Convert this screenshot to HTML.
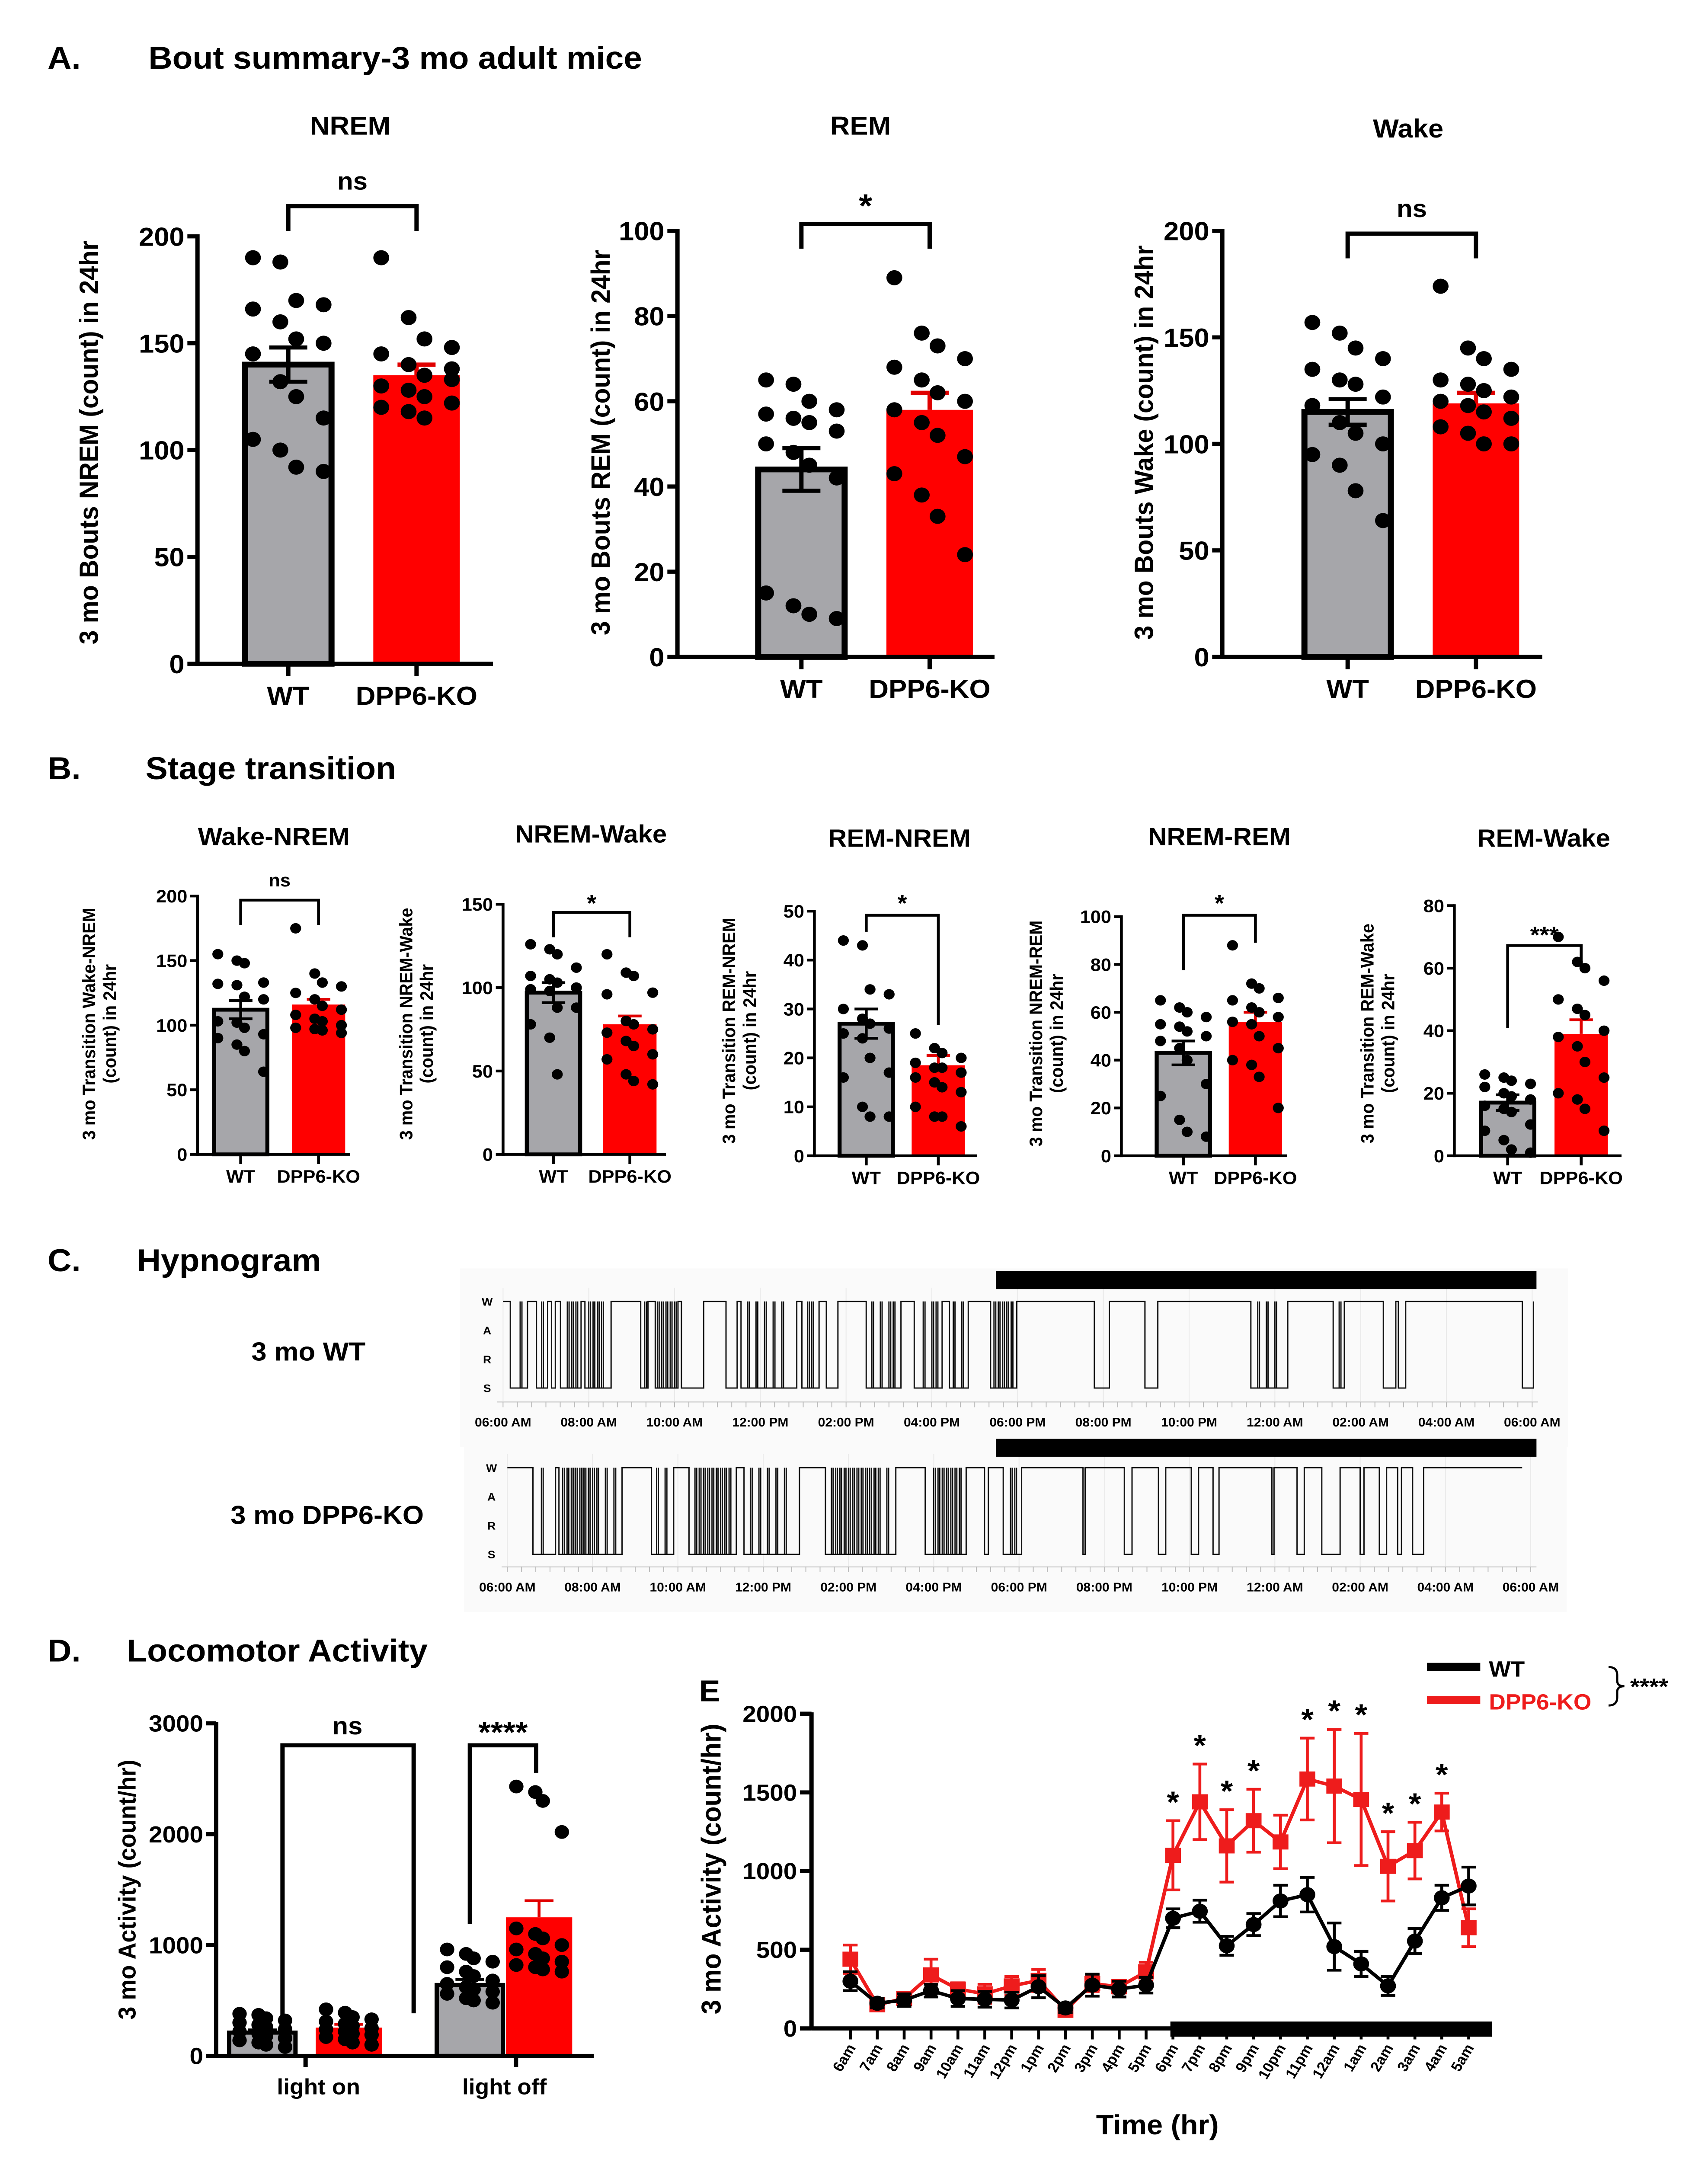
<!DOCTYPE html>
<html><head><meta charset="utf-8">
<style>
html,body{margin:0;padding:0;background:#fff;width:100%;height:100%;overflow:hidden;}
svg{display:block;width:100vw;height:100vh;}
text{font-family:"Liberation Sans",Arial,sans-serif;font-weight:bold;fill:#000;}
</style></head>
<body>
<svg id="fig" width="100%" height="100%" viewBox="0 0 1185 1573.2" preserveAspectRatio="none" xmlns="http://www.w3.org/2000/svg">
<rect width="1185" height="1573.2" fill="#fff"/>
<text x="33" y="50" font-size="23">A.</text>
<text x="103" y="50" font-size="23">Bout summary-3 mo adult mice</text>
<text x="33" y="567" font-size="23">B.</text>
<text x="101" y="567" font-size="23">Stage transition</text>
<text x="33" y="925" font-size="23">C.</text>
<text x="95" y="925" font-size="23">Hypnogram</text>
<text x="33" y="1209" font-size="23">D.</text>
<text x="88" y="1209" font-size="23">Locomotor Activity</text>
<text x="485" y="1238" font-size="22">E</text>
<g id="root"></g>
</svg>
<script>
// ---------- Panel A data ----------
const groups = ["WT", "DPP6-KO"];
const nremMeans = [140, 135];
const nremErrs = [8, 5];
const nremWT = [190,188,170,168,166,160,152,150,145,132,125,115,105,100,92,90];
const nremKO = [190,162,152,148,145,140,135,133,130,128,125,122,120,118,115,138];
const remMeans = [44, 58];
const remErrs = [5, 4];
const remWT = [65,64,60,58,57,56,55,53,50,48,45,42,15,12,10,9];
const remKO = [89,76,73,70,68,65,62,60,58,55,52,47,43,38,33,24];
const wakeMeans = [115, 119];
const wakeErrs = [6, 5];
const wakeWT = [157,152,145,140,135,130,128,122,118,110,105,100,95,90,78,64];
const wakeKO = [174,145,140,135,130,128,125,122,120,118,115,112,108,105,100,100];
// ---------- Panel B data ----------
const wnMeans = [112, 116];
const wnErrs = [7, 4];
const wnWT = [155,150,148,133,132,131,122,120,103,102,98,93,90,85,80,64];
const wnKO = [175,140,133,130,125,120,115,112,108,105,103,100,98,97,96,94];
const nwMeans = [97, 78];
const nwErrs = [6, 5];
const nwWT = [126,123,120,112,107,105,103,100,99,98,88,88,78,70,48,100];
const nwKO = [120,109,107,97,96,80,78,75,73,68,65,60,57,48,44,42];
const rnMeans = [27, 18.5];
const rnErrs = [3, 2];
const rnWT = [44,43,34,33,30,28,27,26,25,24,20,17,16,10,8,8];
const rnKO = [25,22,21,20,19,18,18,17,16,15,14,13,10,8,8,6];
const nrMeans = [43, 56];
const nrErrs = [5, 4];
const nrWT = [65,62,60,58,55,54,52,50,48,45,40,30,25,15,10,8];
const nrKO = [88,72,70,66,65,62,60,58,56,55,50,45,40,38,33,20];
const rwMeans = [17, 39];
const rwErrs = [2.5, 4.5];
const rwWT = [26,25,24,23,22,20,19,18,16,15,14,10,8,5,2,1];
const rwKO = [70,62,60,56,50,47,45,40,38,35,30,25,20,18,15,8];
// ---------- Panel D data ----------
const dCats = ["light on", "light off"];
const dMeans = [210, 255, 640, 1250];
const dErrs = [25, 30, 50, 150];
const dOnWT = [380,370,340,320,300,280,260,240,220,200,180,160,140,120,100,80];
const dOnKO = [420,390,350,330,310,290,270,250,240,220,200,190,170,150,120,100];
const dOffWT = [960,920,880,850,800,760,720,680,650,620,600,580,560,520,500,480];
const dOffKO = [2430,2380,2300,2020,1150,1100,1060,1000,960,920,880,850,820,800,780,760];
// ---------- Panel E data ----------
const hours = ["6am","7am","8am","9am","10am","11am","12pm","1pm","2pm","3pm","4pm","5pm","6pm","7pm","8pm","9pm","10pm","11pm","12am","1am","2am","3am","4am","5am"];
const wtAct = [300,160,180,240,190,185,180,265,130,275,250,275,700,745,525,660,810,850,520,410,270,555,830,905];
const wtErr = [60,30,40,40,50,50,50,70,30,70,50,50,60,70,60,70,100,110,150,80,60,80,80,120];
const koAct = [440,150,190,340,250,220,270,305,115,285,265,360,1100,1440,1160,1320,1185,1585,1540,1455,1030,1130,1375,640];
const koErr = [90,20,30,100,40,60,60,70,30,50,40,60,220,240,230,200,170,260,360,420,220,180,120,120];
const sigHours = [12,13,14,15,17,18,19,20,21,22];
const eTicks = [0,500,1000,1500,2000];
// ---------- Panel C data (hours from 06:00 AM) ----------
const hypLabels = ["06:00 AM","08:00 AM","10:00 AM","12:00 PM","02:00 PM","04:00 PM","06:00 PM","08:00 PM","10:00 PM","12:00 AM","02:00 AM","04:00 AM","06:00 AM"];
const wtSleep = [[0.17,0.57],[0.78,1.04],[1.13,1.22],[1.34,1.82],[1.91,2.52],[3.21,3.38],[3.55,4.08],[4.16,4.68],[5.20,5.46],[5.55,6.85],[6.97,7.37],[7.54,7.81],[8.47,9.28],[9.59,10.24],[10.41,10.85],[11.37,11.98],[13.79,14.14],[14.97,15.27],[17.44,18.30],[19.36,19.62],[20.53,20.82],[20.88,21.05],[23.77,24.03]];
const wtSpikes = [0.4,0.9,1.5,1.6,1.7,2.0,2.1,2.2,2.3,3.3,3.6,3.7,3.8,3.9,4.0,5.7,5.9,6.1,6.3,6.5,7.1,7.2,8.6,8.8,9.0,9.1,9.8,10.0,10.1,10.5,10.7,11.45,11.55,11.65,11.75,11.85,17.6,17.8,18.0,19.5];
const koSleep = [[0.6,1.13],[1.21,2.69],[3.38,3.9],[4.26,5.37],[5.55,6.85],[7.46,9.11],[9.8,10.76],[11.19,11.28],[11.63,12.06],[13.5,13.55],[14.47,14.65],[15.27,15.44],[16.04,16.21],[16.55,16.69],[17.93,17.98],[18.52,18.69],[19.1,19.53],[20.0,20.09],[20.45,20.62],[20.88,20.97],[21.23,21.49]];
const koSpikes = [0.8,1.3,1.4,1.5,1.55,1.6,1.7,1.75,1.8,1.9,2.0,2.1,2.3,2.5,3.5,3.7,4.4,4.5,4.6,4.7,4.8,4.9,5.0,5.1,5.2,5.7,5.9,6.1,6.3,6.5,7.6,7.7,7.8,7.9,8.0,8.1,8.2,8.3,8.4,8.5,8.6,8.7,8.9,10.0,10.1,10.2,10.3,10.4,10.5,10.6,11.8,11.9];

const NS = "http://www.w3.org/2000/svg";
const root = document.getElementById("root");
function el(tag, attrs, parent) {
  const e = document.createElementNS(NS, tag);
  for (const k in attrs) e.setAttribute(k, attrs[k]);
  (parent || root).appendChild(e);
  return e;
}
function txt(x, y, s, size, anchor, parent, extra) {
  const t = el("text", Object.assign({x:x, y:y, "font-size":size, "text-anchor":anchor||"middle"}, extra||{}), parent);
  t.textContent = s;
  return t;
}

function barChart(c) {
  const g = el("g", {});
  
  
  const sy = v => c.y0 - (v / c.ymax) * (c.y0 - c.y1);
  const lw = c.lw;
  const fills = ["#a6a6aa", "#ff0000"];
  for (let i = 0; i < 2; i++) {
    const cx = c.centers[i], w = c.bw, top = sy(c.means[i]);
    const r = el("rect", {x:cx-w/2, y:top, width:w, height:c.y0-top, fill:fills[i], stroke: i==0?"#000":"none", "stroke-width": i==0?lw*1.4:0}, g);
    
    
    const ec = i==0 ? "#000" : "#e00000";
    const e1 = sy(c.means[i]+c.errs[i]), e2 = sy(c.means[i]-c.errs[i]);
    el("line", {x1:cx, x2:cx, y1:e1, y2: i==0 ? e2 : top, stroke:ec, "stroke-width":lw}, g);
    el("line", {x1:cx-c.bw*0.22, x2:cx+c.bw*0.22, y1:e1, y2:e1, stroke:ec, "stroke-width":lw}, g);
    if (i==0) el("line", {x1:cx-c.bw*0.22, x2:cx+c.bw*0.22, y1:e2, y2:e2, stroke:ec, "stroke-width":lw}, g);
    const pts = c.points[i];
    pts.forEach((v, j) => {
      const off = ((j % 4) - 1.5) * c.bw * 0.25 + ((j%2)?2:-2);
      const d = el("circle", {cx:cx+off, cy:sy(v), r:c.pr, fill:"#000"}, g);
      
      
    });
  }
  el("line", {x1:c.ax, x2:c.ax, y1:c.y1-lw/2, y2:c.y0+lw/2, stroke:"#000", "stroke-width":lw}, g);
  el("line", {x1:c.ax, x2:c.xend, y1:c.y0, y2:c.y0, stroke:"#000", "stroke-width":lw}, g);
  c.ticks.forEach(t => {
    el("line", {x1:c.ax-c.tl, x2:c.ax, y1:sy(t), y2:sy(t), stroke:"#000", "stroke-width":lw}, g);
    const tl = txt(c.ax-c.tl-2, sy(t)+c.fs*0.36, String(t), c.fs, "end", g);
    
    
  });
  for (let i = 0; i < 2; i++) {
    el("line", {x1:c.centers[i], x2:c.centers[i], y1:c.y0, y2:c.y0+c.tl+2, stroke:"#000", "stroke-width":lw}, g);
    const xl = txt(c.centers[i], c.y0+c.tl+c.fs*1.2, groups[i], c.fs, "middle", g);
    
    
  }
  const by = c.by;
  el("polyline", {points:`${c.centers[0]},${by+c.bl[0]} ${c.centers[0]},${by} ${c.centers[1]},${by} ${c.centers[1]},${by+c.bl[1]}`, fill:"none", stroke:"#000", "stroke-width":lw}, g);
  const sg = txt((c.centers[0]+c.centers[1])/2, c.sy, c.sig, c.sfs, "middle", g, c.sig=="ns"?{"font-weight":"normal"}:{});
  
  
  if (c.title) {
    const tt = txt(c.tx, c.ty, c.title, c.tfs, "middle", g);
    
    
  }
  c.ylab.forEach((s, k) => {
    const yl = txt(c.ylx + k*c.ylfs*1.15, c.yly, s, c.ylfs, "middle", g, {transform:`rotate(-90 ${c.ylx + k*c.ylfs*1.15} ${c.yly})`});
    
    
  });
}

barChart({name:"nrem-bout-chart", ax:137, xend:342, y0:483, y1:172, ymax:200, ticks:[0,50,100,150,200], centers:[200,289], bw:60, means:nremMeans, errs:nremErrs, points:[nremWT,nremKO], lw:3, tl:7, fs:19, pr:5.5, by:150, bl:[18,18], sig:"ns", sy:138, sfs:18, title:"NREM", tx:243, ty:98, tfs:19, ylab:["3 mo Bouts NREM (count) in 24hr"], ylx:68, yly:322, ylfs:18.5});
barChart({name:"rem-bout-chart", ax:470, xend:690, y0:478, y1:168, ymax:100, ticks:[0,20,40,60,80,100], centers:[556,645], bw:60, means:remMeans, errs:remErrs, points:[remWT,remKO], lw:3, tl:7, fs:19, pr:5.5, by:163, bl:[18,18], sig:"*", sy:158, sfs:24, title:"REM", tx:597, ty:98, tfs:19, ylab:["3 mo Bouts REM (count) in 24hr"], ylx:423, yly:322, ylfs:18.5});
barChart({name:"wake-bout-chart", ax:848, xend:1070, y0:478, y1:168, ymax:200, ticks:[0,50,100,150,200], centers:[935,1024], bw:60, means:wakeMeans, errs:wakeErrs, points:[wakeWT,wakeKO], lw:3, tl:7, fs:19, pr:5.5, by:170, bl:[18,18], sig:"ns", sy:158, sfs:18, title:"Wake", tx:977, ty:100, tfs:19, ylab:["3 mo Bouts Wake (count) in 24hr"], ylx:800, yly:322, ylfs:18.5});

const bCommon = {lw:2, tl:5, fs:13, pr:3.8, bw:37, sfs:13, tfs:18, ylfs:12.5};
barChart(Object.assign({}, bCommon, {name:"wake-nrem-chart", ax:137, xend:243, y0:840, y1:652, ymax:200, ticks:[0,50,100,150,200], centers:[167,221], means:wnMeans, errs:wnErrs, points:[wnWT,wnKO], by:655, bl:[18,18], sig:"ns", sy:645, title:"Wake-NREM", tx:190, ty:615, ylab:["3 mo Transition Wake-NREM","(count) in 24hr"], ylx:66, yly:745}));
barChart(Object.assign({}, bCommon, {name:"nrem-wake-chart", ax:349, xend:462, y0:840, y1:658, ymax:150, ticks:[0,50,100,150], centers:[384,437], means:nwMeans, errs:nwErrs, points:[nwWT,nwKO], by:664, bl:[18,18], sig:"*", sy:663, sfs:17, title:"NREM-Wake", tx:410, ty:613, ylab:["3 mo Transition NREM-Wake","(count) in 24hr"], ylx:286, yly:745}));
barChart(Object.assign({}, bCommon, {name:"rem-nrem-chart", ax:565, xend:678, y0:841, y1:663, ymax:50, ticks:[0,10,20,30,40,50], centers:[601,651], means:rnMeans, errs:rnErrs, points:[rnWT,rnKO], by:666, bl:[12,80], sig:"*", sy:663, sfs:17, title:"REM-NREM", tx:624, ty:616, ylab:["3 mo Transition REM-NREM","(count) in 24hr"], ylx:510, yly:750}));
barChart(Object.assign({}, bCommon, {name:"nrem-rem-chart", ax:778, xend:893, y0:841, y1:667, ymax:100, ticks:[0,20,40,60,80,100], centers:[821,871], means:nrMeans, errs:nrErrs, points:[nrWT,nrKO], by:666, bl:[40,20], sig:"*", sy:663, sfs:17, title:"NREM-REM", tx:846, ty:615, ylab:["3 mo Transition NREM-REM","(count) in 24hr"], ylx:723, yly:752}));
barChart(Object.assign({}, bCommon, {name:"rem-wake-chart", ax:1009, xend:1125, y0:841, y1:659, ymax:80, ticks:[0,20,40,60,80], centers:[1046,1097], means:rwMeans, errs:rwErrs, points:[rwWT,rwKO], by:688, bl:[60,15], sig:"***", sy:686, sfs:17, title:"REM-Wake", tx:1071, ty:616, ylab:["3 mo Transition REM-Wake","(count) in 24hr"], ylx:953, yly:752}));

// Panel D
(function(){
  const g = el("g", {});
  
  
  const ax = 150, y0 = 1496, y1 = 1254, ymax = 3000;
  const sy = v => y0 - v/ymax*(y0-y1);
  const centers = [182, 242, 326, 374], bw = 46;
  const pts = [dOnWT, dOnKO, dOffWT, dOffKO];
  for (let i = 0; i < 4; i++) {
    const wt = i%2==0, cx = centers[i], top = sy(dMeans[i]);
    const r = el("rect", {x:cx-bw/2, y:top, width:bw, height:y0-top, fill: wt?"#a6a6aa":"#ff0000", stroke: wt?"#000":"none", "stroke-width": wt?3:0}, g);
    
    
    const ec = wt ? "#000" : "#e00000";
    const e1 = sy(dMeans[i]+dErrs[i]);
    el("line", {x1:cx, x2:cx, y1:e1, y2:top, stroke:ec, "stroke-width":2}, g);
    el("line", {x1:cx-10, x2:cx+10, y1:e1, y2:e1, stroke:ec, "stroke-width":2}, g);
    pts[i].forEach((v, j) => {
      const off = ((j % 4) - 1.5) * bw * 0.2 + ((j%2)?2:-2);
      const d = el("circle", {cx:cx+off, cy:sy(v), r:5, fill:"#000"}, g);
      
      
    });
  }
  el("line", {x1:ax, x2:ax, y1:y1-1, y2:y0+1, stroke:"#000", "stroke-width":3}, g);
  el("line", {x1:ax, x2:412, y1:y0, y2:y0, stroke:"#000", "stroke-width":3}, g);
  [0,1000,2000,3000].forEach(t => {
    el("line", {x1:ax-7, x2:ax, y1:sy(t), y2:sy(t), stroke:"#000", "stroke-width":3}, g);
    txt(ax-9, sy(t)+6, String(t), 17, "end", g);
  });
  dCats.forEach((s, i) => {
    el("line", {x1:[212,358][i], x2:[212,358][i], y1:y0, y2:y0+8, stroke:"#000", "stroke-width":3}, g);
    const xl = txt([221,350][i], 1524, s, 16, "middle", g);
    
    
  });
  el("polyline", {points:"196,1470 196,1270 287,1270 287,1465", fill:"none", stroke:"#000", "stroke-width":3}, g);
  txt(241, 1262, "ns", 18, "middle", g, {"font-weight":"normal"});
  el("polyline", {points:"326,1400 326,1270 372,1270 372,1290", fill:"none", stroke:"#000", "stroke-width":3}, g);
  txt(349, 1268, "****", 22, "middle", g);
  const yl = txt(94, 1375, "3 mo Activity (count/hr)", 17, "middle", g, {transform:"rotate(-90 94 1375)"});
  
  
})();

// Panel E
(function(){
  const g = el("g", {});
  
  
  const ax = 563, y0 = 1476, y1 = 1247, ymax = 2000;
  const sy = v => y0 - v/ymax*(y0-y1);
  const sx = i => 590 + i*18.65;
  const db = el("rect", {x:812, y:1471, width:223, height:11, fill:"#000"}, g);
  
  
  el("line", {x1:ax, x2:ax, y1:y1-1, y2:y0+1, stroke:"#000", "stroke-width":3}, g);
  el("line", {x1:ax, x2:1035, y1:y0, y2:y0, stroke:"#000", "stroke-width":3}, g);
  eTicks.forEach(t => {
    el("line", {x1:ax-8, x2:ax, y1:sy(t), y2:sy(t), stroke:"#000", "stroke-width":3}, g);
    const tl = txt(ax-10, sy(t)+6, String(t), 17, "end", g);
    
    
  });
  hours.forEach((h, i) => {
    el("line", {x1:sx(i), x2:sx(i), y1:y0, y2:y0+8, stroke:"#000", "stroke-width":2}, g);
    const xl = txt(sx(i)+4, y0+14, h, 10.5, "end", g, {transform:`rotate(-60 ${sx(i)+4} ${y0+14})`});
    
    
  });
  function series(vals, errs, color, marker, name) {
    const sg = el("g", {}, g);
    
    
    vals.forEach((v, i) => {
      el("line", {x1:sx(i), x2:sx(i), y1:sy(v-errs[i]), y2:sy(v+errs[i]), stroke:color, "stroke-width":2}, sg);
      el("line", {x1:sx(i)-5, x2:sx(i)+5, y1:sy(v+errs[i]), y2:sy(v+errs[i]), stroke:color, "stroke-width":2}, sg);
      el("line", {x1:sx(i)-5, x2:sx(i)+5, y1:sy(v-errs[i]), y2:sy(v-errs[i]), stroke:color, "stroke-width":2}, sg);
    });
    el("polyline", {points: vals.map((v,i)=>sx(i)+","+sy(v)).join(" "), fill:"none", stroke:color, "stroke-width":2.5}, sg);
    vals.forEach((v, i) => {
      let m;
      if (marker == "c") m = el("circle", {cx:sx(i), cy:sy(v), r:5.5, fill:color}, sg);
      else m = el("rect", {x:sx(i)-5.5, y:sy(v)-5.5, width:11, height:11, fill:color}, sg);
      
      
    });
  }
  series(koAct, koErr, "#ee1c1c", "s", "dpp6-ko-series");
  series(wtAct, wtErr, "#000", "c", "wt-series");
  sigHours.forEach(i => {
    const s = txt(sx(i), sy(koAct[i]+koErr[i]) - 6, "*", 22, "middle", g);
    
    
  });
  const yl = txt(500, 1360, "3 mo Activity (count/hr)", 19, "middle", g, {transform:"rotate(-90 500 1360)"});
  
  
  const xt = txt(803, 1553, "Time (hr)", 20, "middle", g);
  
  
  const lg = el("g", {}, g);
  
  
  el("line", {x1:990, x2:1027, y1:1213, y2:1213, stroke:"#000", "stroke-width":6}, lg);
  txt(1033, 1220, "WT", 16, "start", lg, {"font-weight":"normal"});
  el("line", {x1:990, x2:1027, y1:1237, y2:1237, stroke:"#ee1c1c", "stroke-width":6}, lg);
  txt(1033, 1244, "DPP6-KO", 16, "start", lg, {"font-weight":"normal", fill:"#ee1c1c", style:"fill:#ee1c1c"});
  el("path", {d:"M1116,1213 q6,0 6,6 v4 q0,4 5,4 q-5,0 -5,4 v4 q0,6 -6,6", fill:"none", stroke:"#000", "stroke-width":1.5}, lg);
  txt(1131, 1233, "****", 17, "start", lg);
})();

// Panel C hypnograms
function hypno(c) {
  const g = el("g", {});
  
  
  el("rect", {x:c.x0-30, y:c.barY-2, width:c.x1-c.x0+55, height:c.axY-c.barY+35, fill:"#fafafa"}, g);
  const sx = h => c.x0 + h/24*(c.x1-c.x0);
  for (let k = 0; k <= 12; k++) el("line", {x1:sx(2*k), x2:sx(2*k), y1:c.wY-10, y2:c.axY, stroke:"#eaeaea", "stroke-width":0.6}, g);
  const bar = el("rect", {x:691, y:c.barY, width:375, height:13, fill:"#000"}, g);
  
  
  let d = `M${sx(0)},${c.wY}`;
  c.sleep.forEach(([a,b]) => {
    d += ` H${sx(a)} V${c.sY} H${sx(b)} V${c.wY}`;
  });
  d += ` H${sx(c.end)}`;
  el("path", {d:d, fill:"none", stroke:"#111", "stroke-width":0.9}, g);
  c.spikes.forEach(h => {
    el("line", {x1:sx(h), x2:sx(h), y1:c.wY, y2:c.sY, stroke:"#111", "stroke-width":0.9}, g);
    el("line", {x1:sx(h)+1.2, x2:sx(h)+1.2, y1:c.wY, y2:c.sY, stroke:"#111", "stroke-width":0.9}, g);
  });
  ["W","A","R","S"].forEach((s,k) => {
    txt(c.x0-11, c.wY + k*(c.sY-c.wY)/3 + 3, s, 8, "middle", g, {"font-weight":"normal"});
  });
  el("line", {x1:c.x0-4, x2:c.x1+4, y1:c.axY, y2:c.axY, stroke:"#ddd", "stroke-width":1.2}, g);
  for (let k = 0; k <= 72; k++) el("line", {x1:sx(k/3), x2:sx(k/3), y1:c.axY, y2:c.axY+4, stroke:"#bbb", "stroke-width":0.6}, g);
  hypLabels.forEach((s, k) => {
    const t = txt(sx(2*k), c.axY+18, s, 9, "middle", g, {"font-weight":"normal"});
    
    
  });
  const lab = txt(c.lx, c.ly, c.label, 19, "middle", g);
  
  
}
hypno({name:"wt-hypnogram", x0:349, x1:1063, barY:925, wY:947, sY:1010, axY:1020, sleep:wtSleep, spikes:wtSpikes, end:24.03, label:"3 mo WT", lx:214, ly:990});
hypno({name:"ko-hypnogram", x0:352, x1:1062, barY:1047, wY:1068, sY:1131, axY:1140, sleep:koSleep, spikes:koSpikes, end:23.8, label:"3 mo DPP6-KO", lx:227, ly:1109});
</script>
</body></html>
